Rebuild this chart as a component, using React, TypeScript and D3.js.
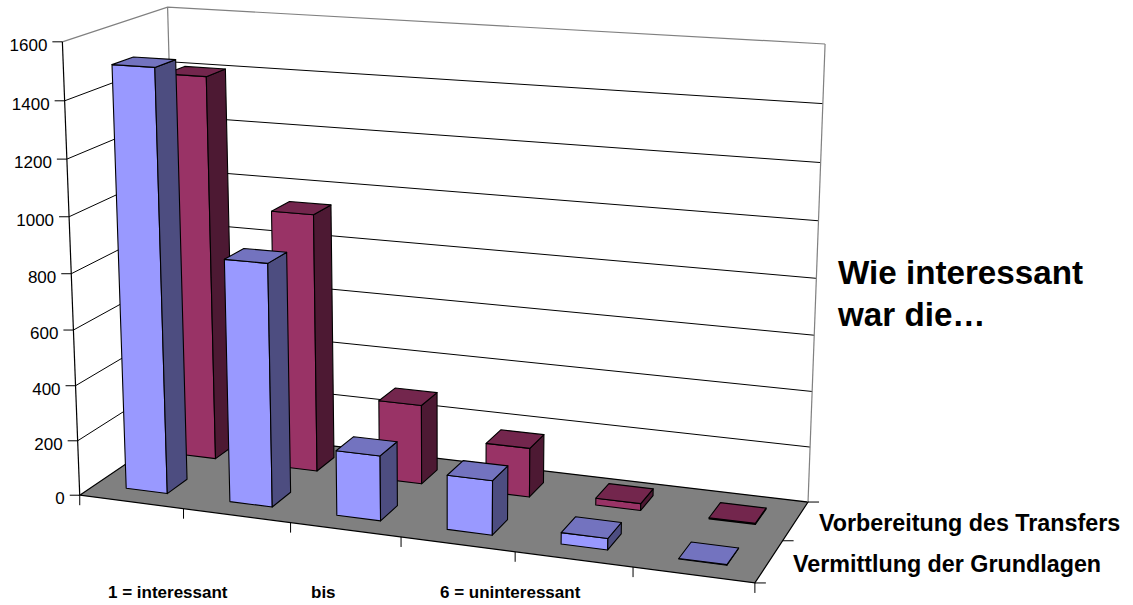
import React from "react";
import * as d3 from "d3";

const categories = ["1", "2", "3", "4", "5", "6"];
const seriesNames = ["Vermittlung der Grundlagen", "Vorbereitung des Transfers"];
const grundlagen = [1510, 867, 232, 192, 40, 2];
const transfers = [1410, 945, 290, 178, 25, 4];
const valueTicks = [0, 200, 400, 600, 800, 1000, 1200, 1400, 1600];
const bottomLabels = ["1 = interessant", "bis", "6 = uninteressant"];
const titleLines = ["Wie interessant", "war die…"];

const W = 1133, H = 605;
// box corners: [u, w, h] -> screen, used to fit the perspective camera
const anchors: [number, number, number, number, number][] = [
  [0, 0, 0, 80, 495],
  [1, 0, 0, 755, 583],
  [0, 1, 0, 179, 428],
  [1, 1, 0, 808, 502],
  [0, 0, 1, 62, 42],
  [0, 1, 1, 168, 7],
  [1, 1, 1, 825, 44],
];

function solve(A: number[][], b: number[]) {
  const n = b.length;
  const M = A.map((r, i) => [...r, b[i]]);
  for (let i = 0; i < n; i++) {
    let p = i;
    for (let k = i + 1; k < n; k++) if (Math.abs(M[k][i]) > Math.abs(M[p][i])) p = k;
    [M[i], M[p]] = [M[p], M[i]];
    for (let k = 0; k < n; k++) {
      if (k === i) continue;
      const f = M[k][i] / M[i][i];
      for (let j = i; j <= n; j++) M[k][j] -= f * M[i][j];
    }
  }
  return M.map((r, i) => r[n] / r[i]);
}

function fitCamera() {
  const rows: number[][] = [];
  const rhs: number[] = [];
  for (const [u, w, h, x, y] of anchors) {
    rows.push([u, w, h, 1, 0, 0, 0, 0, -x * u, -x * w, -x * h]);
    rhs.push(x);
    rows.push([0, 0, 0, 0, u, w, h, 1, -y * u, -y * w, -y * h]);
    rhs.push(y);
  }
  const n = 11;
  const A = d3.range(n).map((i) => d3.range(n).map((j) => d3.sum(rows, (r) => r[i] * r[j]) + (i === j ? 1e-9 : 0)));
  const b = d3.range(n).map((i) => d3.sum(rows, (r, k) => r[i] * rhs[k]));
  return solve(A, b);
}
const cam = fitCamera();
const project = (u: number, w: number, h: number): [number, number] => {
  const d = cam[8] * u + cam[9] * w + cam[10] * h + 1;
  return [
    (cam[0] * u + cam[1] * w + cam[2] * h + cam[3]) / d,
    (cam[4] * u + cam[5] * w + cam[6] * h + cam[7]) / d,
  ];
};

const uScale = d3.scaleBand<string>().domain(categories).range([0, 1]);
const wScale = d3.scaleBand<string>().domain(seriesNames).range([0, 1]);
const hScale = d3.scaleLinear().domain([0, 1600]).range([0, 1]);
const line = d3.line<[number, number]>();
const poly = (pts: [number, number][]) => line(pts)! + "Z";

const BAR_PAD = 0.3; // fraction of a category left empty on each side
const DEPTH_PAD = 0.3; // fraction of a series slot left empty front and back

const palette = [
  { front: "#9999FF", top: "#7373BF", side: "#4D4D80" },
  { front: "#993366", top: "#73264D", side: "#4D1933" },
];
const seriesValues = [grundlagen, transfers];

function Bar({ cat, s, value }: { cat: string; s: number; value: number }) {
  const u0 = uScale(cat)! + uScale.bandwidth() * BAR_PAD;
  const u1 = uScale(cat)! + uScale.bandwidth() * (1 - BAR_PAD);
  const w0 = wScale(seriesNames[s])! + wScale.bandwidth() * DEPTH_PAD;
  const w1 = wScale(seriesNames[s])! + wScale.bandwidth() * (1 - DEPTH_PAD);
  const h = hScale(value);
  const c = palette[s];
  const stroke = { stroke: "#000", strokeWidth: 1.1, strokeLinejoin: "round" as const };
  return (
    <g>
      <path d={poly([project(u0, w0, 0), project(u1, w0, 0), project(u1, w0, h), project(u0, w0, h)])} fill={c.front} {...stroke} />
      <path d={poly([project(u1, w0, 0), project(u1, w1, 0), project(u1, w1, h), project(u1, w0, h)])} fill={c.side} {...stroke} />
      <path d={poly([project(u0, w0, h), project(u1, w0, h), project(u1, w1, h), project(u0, w1, h)])} fill={c.top} {...stroke} />
    </g>
  );
}

export default function App() {
  const font = "'Liberation Sans', Arial, sans-serif";
  const edge = { stroke: "#808080", strokeWidth: 1.2, fill: "none" };
  const uTicks = d3.range(0, categories.length + 1).map((i) => i / categories.length);
  return (
    <svg width={W} height={H} viewBox={`0 0 ${W} ${H}`} style={{ position: "absolute", left: 0, top: 0, background: "#fff" }} fontFamily={font}>
      {/* walls */}
      <path d={poly([project(0, 0, 0), project(0, 1, 0), project(1, 1, 0), project(1, 0, 0)])} fill="#808080" stroke="#000" strokeWidth={1.2} />
      {valueTicks.filter((v) => v > 0 && v < 1600).map((v) => (
        <path key={v} d={line([project(0, 0, hScale(v)), project(0, 1, hScale(v)), project(1, 1, hScale(v))])!} fill="none" stroke="#000" strokeWidth={1} />
      ))}
      <path d={line([project(0, 0, 1), project(0, 1, 1), project(1, 1, 1)])!} {...edge} />
      <path d={line([project(0, 1, 1), project(0, 1, 0)])!} {...edge} />
      <path d={line([project(1, 1, 1), project(1, 1, 0)])!} {...edge} />
      {/* axes */}
      <path d={line([project(0, 0, 0), project(0, 0, 1)])!} stroke="#000" strokeWidth={1.2} fill="none" />
      {valueTicks.map((v) => {
        const [x, y] = project(0, 0, hScale(v));
        return (
          <g key={v}>
            <line x1={x - 10} x2={x} y1={y} y2={y} stroke="#000" strokeWidth={1} />
            <text x={x - 15} y={y + 9} textAnchor="end" fontSize={17} fill="#000">{v}</text>
          </g>
        );
      })}
      {uTicks.map((u) => {
        const [x, y] = project(u, 0, 0);
        return <line key={u} x1={x} x2={x} y1={y} y2={y + 10} stroke="#000" strokeWidth={1} />;
      })}
      {[0, 0.5, 1].map((w) => {
        const [x, y] = project(1, w, 0);
        return <line key={w} x1={x} x2={x + 11} y1={y} y2={y} stroke="#000" strokeWidth={1} />;
      })}
      {/* bars, back series first */}
      {[1, 0].map((s) =>
        categories.map((cat, i) => <Bar key={`${s}-${cat}`} cat={cat} s={s} value={seriesValues[s][i]} />)
      )}
      {/* text */}
      <g fontWeight="bold" fontSize={17} fill="#000">
        <text x={108} y={598}>{bottomLabels[0]}</text>
        <text x={311} y={598}>{bottomLabels[1]}</text>
        <text x={440} y={598}>{bottomLabels[2]}</text>
      </g>
      <g fontWeight="bold" fontSize={23.3} fill="#000">
        <text x={819} y={531}>{seriesNames[1]}</text>
        <text x={793} y={572}>{seriesNames[0]}</text>
      </g>
      <g fontWeight="bold" fontSize={33.2} fill="#000">
        <text x={838} y={284}>{titleLines[0]}</text>
        <text x={838} y={326}>{titleLines[1]}</text>
      </g>
    </svg>
  );
}
